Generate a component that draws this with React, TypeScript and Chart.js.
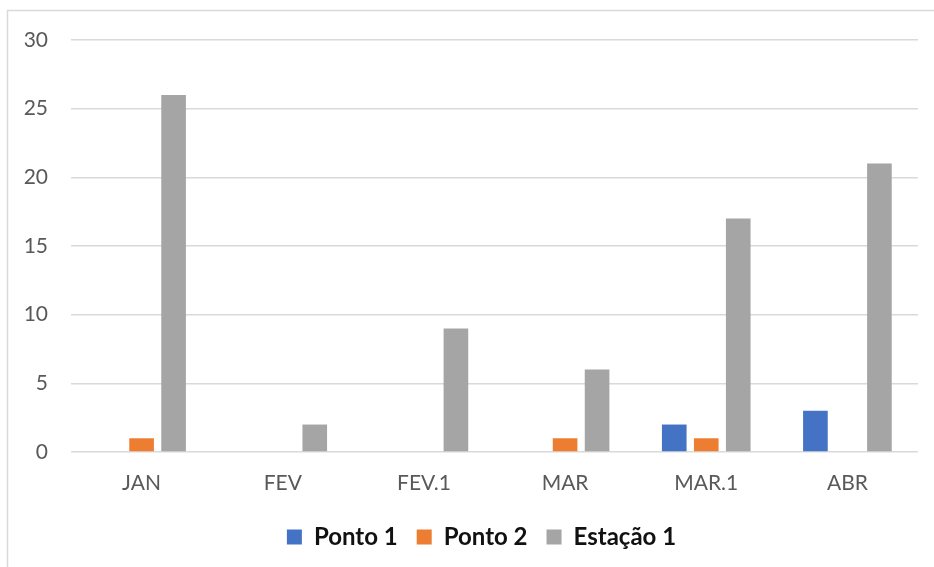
import React, { useEffect, useRef } from "react";
import { Chart, registerables } from "chart.js";

Chart.register(...registerables);

const categories = ["JAN", "FEV", "FEV.1", "MAR", "MAR.1", "ABR"];
const ponto1 = [0, 0, 0, 0, 2, 3];
const ponto2 = [1, 0, 0, 1, 1, 0];
const estacao1 = [26, 2, 9, 6, 17, 21];
const yTicks = [0, 5, 10, 15, 20, 25, 30];

const FONT = "Lato, 'Noto Sans', sans-serif";

// White background, thin outer frame, and a small horizontal nudge of the legend row
const framePlugin = {
  id: "frame",
  afterLayout(chart: any) {
    const lg = chart.legend;
    if (lg) {
      lg.left += 12;
      lg.right += 12;
    }
  },
  beforeDraw(chart: any) {
    const { ctx, width, height } = chart;
    ctx.save();
    ctx.fillStyle = "#ffffff";
    ctx.fillRect(0, 0, width, height);
    ctx.strokeStyle = "#d9d9d9";
    ctx.lineWidth = 1.5;
    ctx.strokeRect(7.5, 10.5, width + 50, height + 50);
    ctx.restore();
  },
};

export default function App() {
  const ref = useRef<HTMLCanvasElement | null>(null);

  useEffect(() => {
    if (!ref.current) return;
    const chart = new Chart(ref.current, {
      type: "bar",
      data: {
        labels: categories,
        datasets: [
          { label: "Ponto 1", data: ponto1, backgroundColor: "#4472C4" },
          { label: "Ponto 2", data: ponto2, backgroundColor: "#ED7D31" },
          { label: "Estação 1", data: estacao1, backgroundColor: "#A5A5A5" },
        ],
      },
      options: {
        responsive: false,
        animation: false,
        devicePixelRatio: 1,
        layout: { padding: { left: 21, right: 16, top: 40, bottom: 8 } },
        datasets: {
          bar: { categoryPercentage: 0.68, barPercentage: 0.77 },
        },
        plugins: {
          legend: {
            position: "bottom",
            labels: {
              boxWidth: 15,
              boxHeight: 15,
              padding: 19,
              color: "#111111",
              font: { family: FONT, size: 24, weight: "bold" },
            },
          },
          tooltip: { enabled: false },
        },
        scales: {
          x: {
            grid: { display: false, drawTicks: false },
            border: { display: false },
            ticks: {
              color: "#595959",
              padding: 19,
              font: { family: FONT, size: 21 },
            },
            afterFit(scale: any) {
              scale.height = 54;
            },
          },
          y: {
            min: 0,
            max: 30,
            afterBuildTicks(scale: any) {
              scale.ticks = yTicks.map((v) => ({ value: v }));
            },
            grid: { color: "#d9d9d9", lineWidth: 1.5, drawTicks: false },
            border: { display: false },
            ticks: {
              color: "#595959",
              padding: 23,
              font: { family: FONT, size: 21 },
            },
            afterFit(scale: any) {
              scale.width = 50;
            },
          },
        },
      },
      plugins: [framePlugin],
    });
    return () => chart.destroy();
  }, []);

  return (
    <div style={{ position: "fixed", left: 0, top: 0, width: 934, height: 567, background: "#fff" }}>
      <canvas ref={ref} width={934} height={567} style={{ display: "block" }} />
    </div>
  );
}
